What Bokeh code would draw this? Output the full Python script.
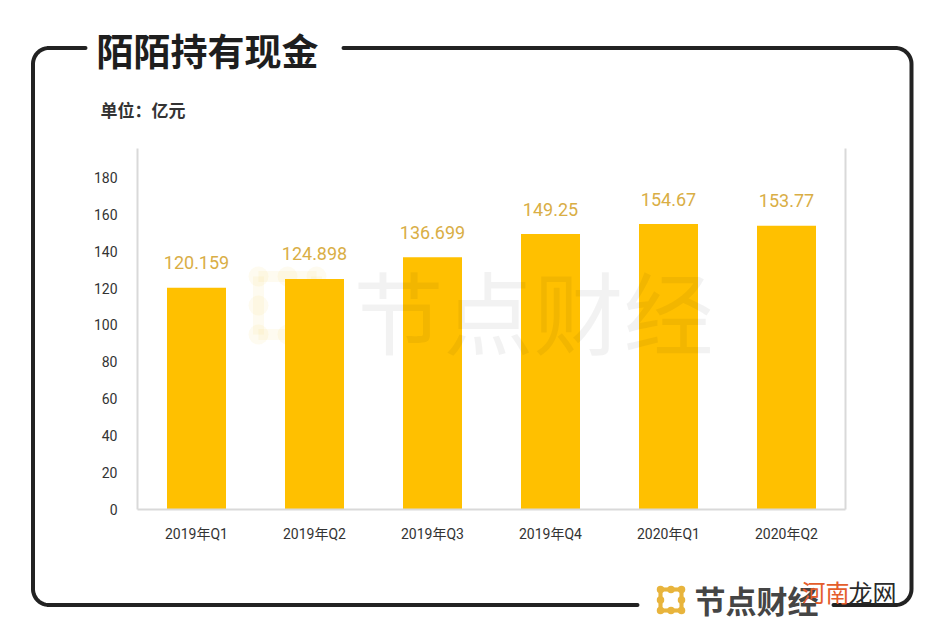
import math
from bokeh.plotting import figure
from bokeh.models import (ColumnDataSource, Range1d, LinearAxis, FixedTicker, Label)
from bokeh.core.properties import value
from bokeh.embed import file_html
from bokeh.resources import INLINE

# ---- data ----
categories = ["2019年Q1", "2019年Q2", "2019年Q3", "2019年Q4", "2020年Q1", "2020年Q2"]
cash = [120.159, 124.898, 136.699, 149.25, 154.67, 153.77]
cash_labels = ["120.159", "124.898", "136.699", "149.25", "154.67", "153.77"]
y_ticks = [0, 20, 40, 60, 80, 100, 120, 140, 160, 180]

title_text = "陌陌持有现金"
unit_text = "单位：亿元"
brand_text = "节点财经"

CJK = "'Noto Sans CJK SC', sans-serif"
NUM = "Roboto, 'Noto Sans CJK SC', sans-serif"

W, H = 921, 625
# chart frame position in page coordinates
FL, FR, FT, FB = 137, 845, 148, 509.5

# ================= background figure: rounded frame, titles, brand =================
bg = figure(width=W, height=H, x_range=Range1d(0, W), y_range=Range1d(H, 0),
            output_backend="svg", toolbar_location=None, title=None,
            x_axis_location=None, y_axis_location=None, min_border=0)
bg.background_fill_color = "white"
bg.border_fill_color = "white"
bg.outline_line_color = None
bg.grid.visible = False

def arc(cx, cy, r, a0, a1, n=14):
    return [(cx + r * math.cos(math.radians(a0 + (a1 - a0) * k / n)),
             cy + r * math.sin(math.radians(a0 + (a1 - a0) * k / n))) for k in range(n + 1)]

L_, R_, T_, B_, rad = 32.5, 911, 47.5, 604.5, 16
path1 = [(85, T_)] + arc(L_ + rad, T_ + rad, rad, 270, 180) + arc(L_ + rad, B_ - rad, rad, 180, 90) + [(637, B_)]
path2 = [(833, B_)] + arc(R_ - rad, B_ - rad, rad, 90, 0) + arc(R_ - rad, T_ + rad, rad, 0, -90) + [(343, T_)]
for path in (path1, path2):
    bg.line([q[0] for q in path], [q[1] for q in path], line_color="#222222", line_width=4,
            line_join="round", line_cap="round")

bg.text(x=[96], y=[49], text=[title_text], text_font=value(CJK), text_font_size="37px",
        text_font_style="bold", text_color="#1e1e1e", text_baseline="middle", text_align="left")
bg.text(x=[100], y=[109], text=[unit_text], text_font=value(CJK), text_font_size="17px",
        text_font_style="bold", text_color="#333333", text_baseline="middle", text_align="left")

def logo(fig, x0, y0, step, d, color, alpha):
    segs = [(0, 0, 2, 0), (0, 2, 2, 2), (0, 0, 0, 2), (2, 0, 2, 2)]
    fig.segment(x0=[x0 + s[0] * step for s in segs], y0=[y0 + s[1] * step for s in segs],
                x1=[x0 + s[2] * step for s in segs], y1=[y0 + s[3] * step for s in segs],
                line_color=color, line_alpha=alpha, line_width=d * 0.55)
    pts = [(i, j) for i in range(3) for j in range(3) if not (i == 1 and j == 1)]
    fig.scatter(x=[x0 + i * step for i, j in pts], y=[y0 + j * step for i, j in pts],
                size=d, fill_color=color, fill_alpha=alpha, line_color=None)

logo(bg, 258, 276, 29, 20, "#F5C842", 0.08)
logo(bg, 660, 589, 10.5, 7.5, "#E8B43C", 1.0)

bg.text(x=[694], y=[599], text=[brand_text], text_font=value(CJK), text_font_size="31px",
        text_font_style="bold", text_color="#454545", text_baseline="middle", text_align="left")
bg.text(x=[801], y=[591], text=["河南"], text_font=value(CJK), text_font_size="24px",
        text_color="#E45D2B", text_baseline="middle", text_align="left")
bg.text(x=[848], y=[591], text=["龙网"], text_font=value(CJK), text_font_size="24px",
        text_color="#2a2a2a", text_baseline="middle", text_align="left")

# ================= chart figure (transparent, overlaid at the same spot) =================
idx = list(range(len(categories)))
source = ColumnDataSource(dict(i=idx, cat=categories, val=cash, lab=cash_labels))

p = figure(width=W, height=H, x_range=Range1d(-0.5, len(categories) - 0.5),
           y_range=Range1d(0, 195.6),
           output_backend="svg", toolbar_location=None,
           min_border_left=FL, min_border_right=W - FR,
           min_border_top=FT, min_border_bottom=int(round(H - FB)),
           styles={"position": "absolute", "top": "0px", "left": "0px"})
p.background_fill_color = None
p.border_fill_color = None
p.background_fill_alpha = 0
p.border_fill_alpha = 0
p.outline_line_color = None
p.xgrid.grid_line_color = None
p.ygrid.grid_line_color = None

p.extra_x_ranges = {"px": Range1d(FL, FR)}
p.extra_y_ranges = {"py": Range1d(H - FB, H - FT)}

p.vbar(x="i", top="val", width=0.5, source=source, color="#FFC000", line_color=None)
p.text(x="i", y="val", text="lab", source=source, text_align="center",
       text_baseline="alphabetic", y_offset=-25, text_color="#D9AE45",
       text_font=value("Roboto"), text_font_size="18px")

yax = p.yaxis[0]
yax.ticker = FixedTicker(ticks=y_ticks)
yax.axis_line_color = "#d9d9d9"
yax.axis_line_width = 2
yax.major_tick_line_color = None
yax.minor_tick_line_color = None
yax.major_label_standoff = 14
yax.major_label_text_font = NUM
yax.major_label_text_font_size = "14px"
yax.major_label_text_color = "#333333"

xax = p.xaxis[0]
xax.ticker = FixedTicker(ticks=idx)
xax.major_label_overrides = {i: c for i, c in zip(idx, categories)}
xax.axis_line_color = "#d9d9d9"
xax.axis_line_width = 2
xax.major_tick_line_color = None
xax.minor_tick_line_color = None
xax.major_label_standoff = 10
xax.major_label_text_font = NUM
xax.major_label_text_font_size = "14px"
xax.major_label_text_color = "#333333"

rax = LinearAxis(ticker=FixedTicker(ticks=[]), axis_line_color="#d9d9d9", axis_line_width=2,
                 major_tick_line_color=None, minor_tick_line_color=None,
                 major_label_text_color=None)
p.add_layout(rax, "right")

# watermark inside the chart area
p.add_layout(Label(x=353, y=H - 309, text=brand_text, text_font=CJK, text_font_size="90px",
                   text_color="#000000", text_alpha=0.05, text_baseline="middle",
                   text_align="left", x_range_name="px", y_range_name="py"))

open("out.html", "w").write(file_html([bg, p], INLINE))
